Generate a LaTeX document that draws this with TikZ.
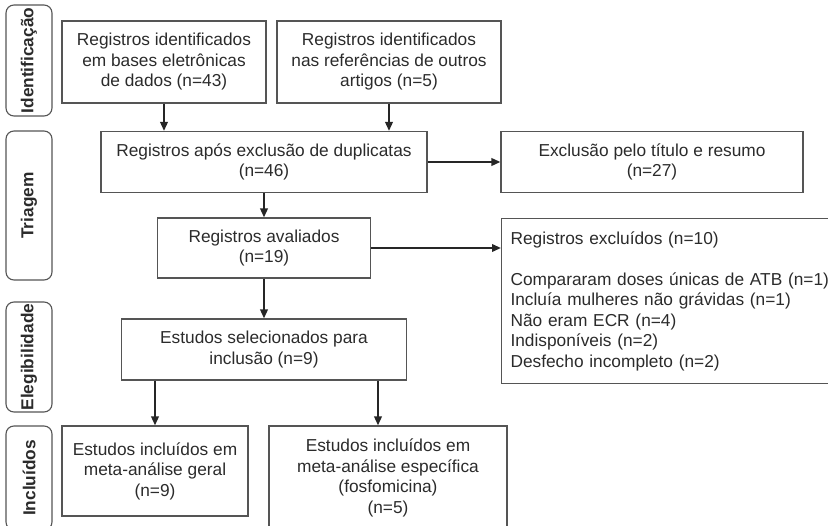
\documentclass[tikz,border=0pt]{standalone}
\usepackage{fontspec}
\setmainfont{Liberation Sans}
\usetikzlibrary{arrows.meta, positioning}
\definecolor{ink}{HTML}{2B2B2B}
\definecolor{rim}{HTML}{555555}
\tikzset{
  phase/.style   = {rectangle, rounded corners=8pt, draw=rim, line width=1.1pt, rotate=90,
                    minimum height=46pt, inner sep=0pt, text=ink,
                    font=\bfseries\fontsize{17.3}{20}\selectfont},
  stepbox/.style = {rectangle, draw=rim, line width=1.1pt, align=center, inner sep=0pt,
                    text=ink, font=\fontsize{17.3}{20.5}\selectfont},
  listbox/.style = {stepbox, align=left, anchor=north west, inner xsep=9pt},
  flow/.style    = {-{Triangle[length=9pt, width=7.5pt]}, line width=2pt, draw=black!85}
}
\begin{document}
\begin{tikzpicture}[x=1pt, y=-1pt]
  \useasboundingbox (0,0) rectangle (828,526);
  \clip (0,0) rectangle (828,526);

  \node[phase, minimum width=111pt] (idPh)  at (29,60.5) {Identificação};
  \node[phase, minimum width=149pt] (triPh) at (29,205.5) {Triagem};
  \node[phase, minimum width=110pt] (eliPh) at (29,357) {Elegibilidade};
  \node[phase, minimum width=104pt] (incPh) at (29,478) {Incluídos};

  \node[stepbox, minimum width=204pt, minimum height=82pt] (dbRec) at (164,62)
                   {Registros identificados\\em bases eletrônicas\\de dados (n=43)};
  \node[stepbox, minimum width=224pt, minimum height=82pt] (refRec) at (389,62)
                   {Registros identificados\\nas referências de outros\\artigos (n=5)};
  \node[stepbox, minimum width=326pt, minimum height=61pt] (dedup) at (264,162)
                   {Registros após exclusão de duplicatas\\(n=46)};
  \node[stepbox, minimum width=302pt, minimum height=61pt] (titleEx) at (652,162)
                   {Exclusão pelo título e resumo\\(n=27)};
  \node[stepbox, minimum width=213pt, minimum height=60pt] (screened) at (264,248)
                   {Registros avaliados\\(n=19)};
  \node[listbox, text width=322pt, minimum height=165pt] (fullEx) at (501,218)
                   {Registros excluídos (n=10)\\[20.5pt]
                    Compararam doses únicas de ATB (n=1)\\
                    Incluía mulheres não grávidas (n=1)\\
                    Não eram ECR (n=4)\\
                    Indisponíveis (n=2)\\
                    Desfecho incompleto (n=2)};
  \node[stepbox, minimum width=285pt, minimum height=61pt] (chosen) at (264,349.5)
                   {Estudos selecionados para\\inclusão (n=9)};
  \node[stepbox, minimum width=186pt, minimum height=90pt] (overall) at (155,471)
                   {Estudos incluídos em\\meta-análise geral\\(n=9)};
  \node[stepbox, minimum width=238pt, minimum height=104pt] (fosfo) at (388,478)
                   {Estudos incluídos em\\meta-análise específica\\(fosfomicina)\\(n=5)};

  \draw[flow] (dbRec.south) -- (dbRec.south |- dedup.north);
  \draw[flow] (refRec.south) -- (refRec.south |- dedup.north);
  \draw[flow] (dedup) -- (titleEx);
  \draw[flow] (dedup.south) -- (dedup.south |- screened.north);
  \draw[flow] (screened) -- (screened -| fullEx.west);
  \draw[flow] (screened.south) -- (screened.south |- chosen.north);
  \draw[flow] (chosen.south -| overall.north) -- (overall.north);
  \draw[flow] ([xshift=-10pt]fosfo.north |- chosen.south) -- ([xshift=-10pt]fosfo.north);
\end{tikzpicture}
\end{document}
